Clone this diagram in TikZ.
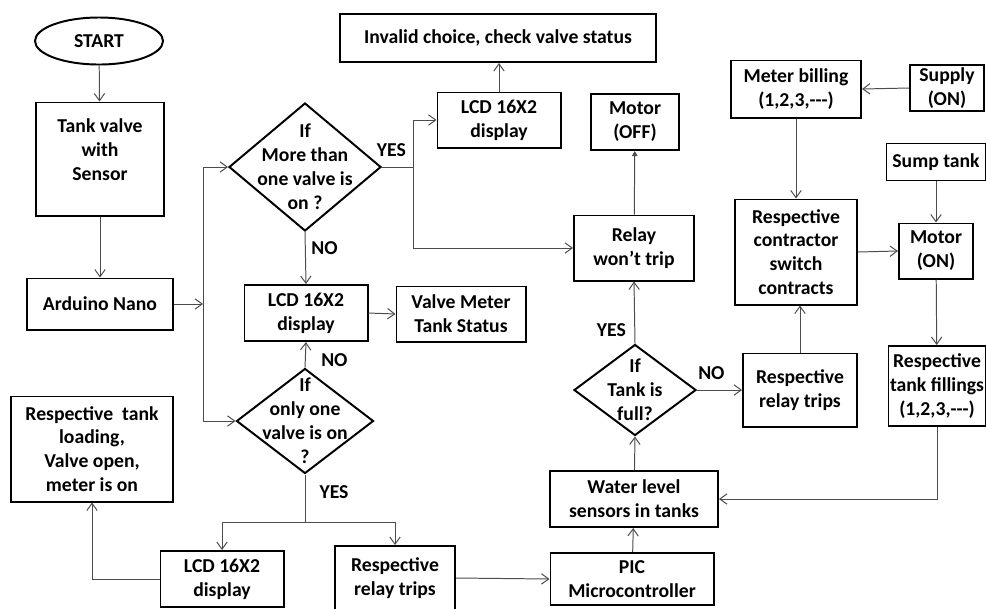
\documentclass[tikz,border=0pt]{standalone}
\usepackage{fontspec}
\setmainfont{Carlito}
\usetikzlibrary{shapes.geometric,arrows.meta,positioning}

\begin{document}
\begin{tikzpicture}[x=0.025cm, y=-0.025cm, font=\bfseries\fontsize{14}{17}\selectfont,
 box/.style={draw, line width=1.4pt, align=center, inner sep=1pt},
 term/.style={draw, ellipse, line width=1.4pt, inner sep=0pt},
 dec/.style={draw, diamond, line width=1.4pt, inner sep=0pt},
 dectxt/.style={align=center, inner sep=0pt},
 link/.style={draw=black!70, line width=0.7pt, ->},
 lbl/.style={inner sep=1pt},
 >={Straight Barb[length=1.8mm,width=2.6mm]}]
\useasboundingbox (0,0) rectangle (986,608);

% left column
\node[term, minimum width=3.2cm, minimum height=1.175cm] (start) at (99,41) {START};
\node[box, minimum width=3.2cm, minimum height=2.825cm] (tank) at (100,159) {Tank valve\\with\\Sensor\rule[-13pt]{0pt}{0pt}};
\node[box, minimum width=3.65cm, minimum height=1.275cm] (nano) at (100,304) {Arduino Nano};
\node[box, minimum width=4.05cm, minimum height=2.625cm] (loading) at (92,449) {Respective~ tank\\loading,\\Valve open,\\meter is on};

% decisions on the valves
\node[dec, minimum width=3.8cm, minimum height=3.2cm,
 label={[dectxt]center:If\\More than\\one valve is\\on ?}] (q1) at (305,167) {};
\node[dec, minimum width=3.425cm, minimum height=2.625cm,
 label={[dectxt]center:If\\only one\\valve is on\\?}] (q2) at (305,421) {};
\node[box, minimum width=3.075cm, minimum height=1.4cm] (lcdB) at (306,313) {LCD 16X2\\display};
\node[box, minimum width=3.225cm, minimum height=1.375cm] (status) at (461,314) {Valve Meter\\Tank Status};
\node[box, minimum width=3.075cm, minimum height=1.375cm] (lcdA) at (499,120) {LCD 16X2\\display};
\node[box, minimum width=7.875cm, minimum height=1.2cm] (invalid) at (498,38) {Invalid choice, check valve status};
\node[box, minimum width=3.075cm, minimum height=1.4cm] (lcdC) at (222,579) {LCD 16X2\\display};
\node[box, minimum width=3.0cm, minimum height=1.6cm] (relayL) at (395,578) {Respective\\relay trips};

% tank side
\node[box, minimum width=4.075cm, minimum height=1.3cm] (pic) at (632,579) {PIC\\Microcontroller};
\node[box, minimum width=4.2cm, minimum height=1.4cm] (level) at (634,499) {Water level\\sensors in tanks};
\node[dec, minimum width=3.05cm, minimum height=2.275cm,
 label={[dectxt]center:If\\Tank is\\full?}] (q3) at (635,390) {};
\node[box, minimum width=3.0cm, minimum height=1.625cm] (relayno) at (634,248) {Relay\\won’t trip};
\node[box, minimum width=2.2cm, minimum height=1.4cm] (motoff) at (635,122) {Motor\\(OFF)};
\node[box, minimum width=2.85cm, minimum height=1.825cm] (relayR) at (800,390) {Respective\\relay trips};
\node[box, minimum width=3.05cm, minimum height=2.625cm] (contractor) at (796,252) {Respective\\contractor\\switch\\contracts};
\node[box, minimum width=3.25cm, minimum height=1.425cm] (billing) at (796,89) {Meter billing\\(1,2,3,-{}-{}-)};
\node[box, minimum width=1.85cm, minimum height=1.15cm] (supply) at (947,88) {Supply\\(ON)};
\node[box, minimum width=2.475cm, minimum height=0.925cm] (sump) at (936,162) {Sump tank};
\node[box, minimum width=1.85cm, minimum height=1.375cm] (moton) at (936,251) {Motor\\(ON)};
\node[box, minimum width=2.425cm, minimum height=2.0cm] (fillings) at (937,386) {Respective\\tank fillings\\(1,2,3,-{}-{}-)};

\coordinate (split) at (203,304);
\coordinate (yes1) at (413,167);
\coordinate (fork) at (305,522);

% connectors
\draw[link] (start) -- (tank);
\draw[link] (tank) -- (nano);
\draw[link] (nano.east) -- (split);
\draw[link] (split) |- (q1.west);
\draw[link] (split) |- (q2.west);
\draw[draw=black!70, line width=0.7pt] (q1.east) -- node[lbl, pos=0.3, above=6pt]{YES} (yes1);
\draw[link] (yes1) |- (lcdA.west);
\draw[link] (yes1) |- (relayno.west);
\draw[link] (lcdA.north) -- (lcdA.north |- invalid.south);
\draw[link] (q1.south) -- node[lbl, pos=0.3, right=3pt]{NO} (lcdB.north);
\draw[link] (lcdB.east) -- (status.west);
\draw[link] (q2.north) -- node[lbl, pos=0.3, right=10pt]{NO} (lcdB.south);
\draw[draw=black!70, line width=0.7pt] (q2.south) -- node[lbl, pos=0.37, right=9pt]{YES} (fork);
\draw[link] (fork) -| (lcdC.north);
\draw[link] (fork) -| (relayL.north);
\draw[link] (lcdC.west) -| (loading.south);
\draw[link] (relayL.east) -- (pic.west);
\draw[link] (pic) -- (level);
\draw[link] (level) -- (q3.south);
\draw[link] (q3.north) -- node[lbl, pos=0.22, left=5pt]{YES} (relayno.south);
\draw[link, -{Triangle[length=1.3mm,width=1.4mm]}] (relayno) -- (motoff);
\draw[link] (q3.east) -- node[lbl, pos=0.32, above=6pt]{NO} (relayR.west);
\draw[link] (relayR.north) -- (relayR.north |- contractor.south);
\draw[link] (supply.west) -- (billing.east);
\draw[link] (billing) -- (contractor);
\draw[link] (contractor.east) -- (moton.west);
\draw[link] (sump) -- (moton);
\draw[link] (moton) -- (fillings);
\draw[link] (fillings.south) |- (level.east);
\end{tikzpicture}
\end{document}
